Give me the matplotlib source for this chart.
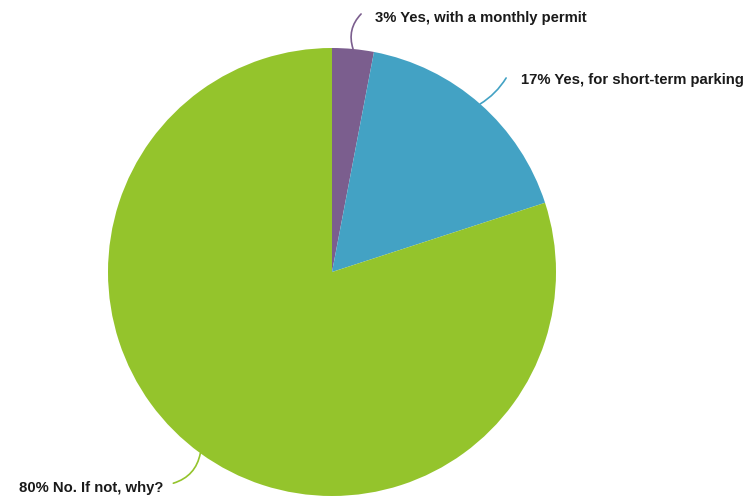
import numpy as np
import matplotlib
matplotlib.use("Agg")
import matplotlib.pyplot as plt

plt.rcParams["font.family"] = ["Liberation Sans", "DejaVu Sans"]

labels = ["Yes, with a monthly permit", "Yes, for short-term parking", "No. If not, why?"]
shares = [3, 17, 80]
colors = ["#7b5e8e", "#43a2c4", "#94c42c"]

W, H = 749, 498
fig = plt.figure(figsize=(W / 100, H / 100), dpi=100)
ax = fig.add_axes([0, 0, 1, 1])

cx, cy, r = 332, H - 272, 224
wedges, _ = ax.pie(shares, colors=colors, startangle=90, counterclock=False,
                   center=(cx, cy), radius=r, frame=True,
                   wedgeprops=dict(linewidth=0))
ax.set_xlim(0, W)
ax.set_ylim(0, H)
ax.set_aspect("equal")
ax.axis("off")

# label placement: (leader end offset, text offset, text ha, curve rad)
layout = [
    ((8, 35), (22, 31), "left", 0.3),
    ((26, 26), (41, 24), "left", -0.12),
    ((-27, -30), (-37, -35), "right", 0.3),
]
for w, lab, s, (lend, toff, ha, rad) in zip(wedges, labels, shares, layout):
    ang = np.deg2rad((w.theta1 + w.theta2) / 2)
    px, py = cx + r * np.cos(ang), cy + r * np.sin(ang)
    ax.annotate("", xy=(px, py), xytext=(px + lend[0], py + lend[1]),
                arrowprops=dict(arrowstyle="-", color=w.get_facecolor(), lw=1.2,
                                shrinkA=0, shrinkB=0,
                                connectionstyle=f"arc3,rad={rad}"))
    ax.text(px + toff[0], py + toff[1], f"{s}% {lab}", ha=ha, va="center",
            fontsize=10.7, fontweight="bold", color="#1a1a1a")

fig.savefig("out.png", dpi=100)
